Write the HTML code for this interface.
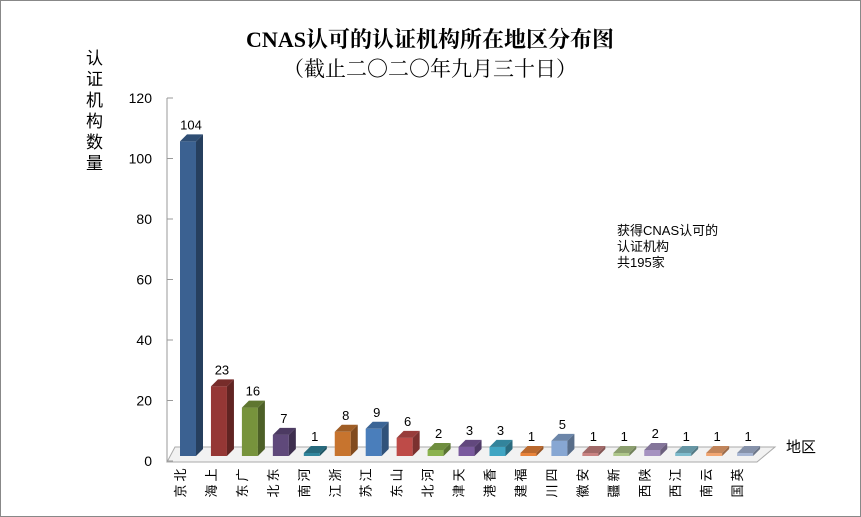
<!DOCTYPE html>
<html><head><meta charset="utf-8"><style>
body{margin:0;background:#fff;}
svg{display:block;font-family:"Liberation Sans","Noto Sans CJK SC",sans-serif;}
</style></head><body>
<svg id="chart" width="861" height="517">
<rect x="0.5" y="0.5" width="860" height="516" fill="#fff" stroke="#888"/>
<text x="430" y="47" text-anchor="middle" font-size="22" font-weight="bold" font-family="Liberation Serif,'Noto Serif CJK SC',serif">CNAS认可的认证机构所在地区分布图</text>
<text x="430" y="76" text-anchor="middle" font-size="21" font-family="Liberation Serif,'Noto Serif CJK SC',serif">（截止二〇二〇年九月三十日）</text>
<g font-size="17">
<text x="86" y="64">认</text><text x="86" y="85">证</text><text x="86" y="106">机</text><text x="86" y="127">构</text><text x="86" y="148">数</text><text x="86" y="169">量</text></g>
<text x="786" y="452" font-size="15">地区</text>
<g font-size="13">
<text x="617" y="235">获得CNAS认可的</text><text x="617" y="251">认证机构</text><text x="617" y="267">共195家</text></g>
<g id="axes"></g><g id="bars"></g>
</svg>
<script>
const categories=["北京","上海","广东","东北","河南","浙江","江苏","山东","河北","天津","香港","福建","四川","安徽","新疆","陕西","江西","云南","英国"];
const values=[104,23,16,7,1,8,9,6,2,3,3,1,5,1,1,2,1,1,1];
const yTicks=[0,20,40,60,80,100,120];
const colors=["#3b6191","#953735","#77933c","#5f497a","#31859c","#c7742e","#4a7ebb","#be4b48","#8bb24f","#7a5a9e","#40a5c3","#e8833a","#87a7d3","#c98382","#aec68a","#a592c0","#7fbccd","#f1a672","#a8b7d4"];
const NS="http://www.w3.org/2000/svg";
const base=456, scale=3.025, x0=188, step=30.95, bw=16, dp=7;
const yS=v=>base-v*scale, xS=i=>x0+i*step;
function mk(t,a,p){const e=document.createElementNS(NS,t);for(const k in a)e.setAttribute(k,a[k]);p.appendChild(e);return e;}
const ax=document.getElementById('axes'), bars=document.getElementById('bars');
// floor
const fl=mk('polygon',{points:"167,462 757,462 775,447 175,447",fill:"#f2f2f2",stroke:"#aaa"},ax);


const yl=mk('line',{x1:167,y1:98,x2:167,y2:462,stroke:"#999"},ax);


yTicks.forEach(t=>{const y=yS(t)+5;
 mk('line',{x1:167,y1:y,x2:173,y2:y,stroke:"#999"},ax);
 const tx=mk('text',{x:152,y:y+5,'text-anchor':'end','font-size':14},ax);tx.textContent=t;
 
 });
categories.forEach((c,i)=>{
 const cx=xS(i), v=values[i], top=yS(v), x=cx-bw/2, col=colors[i];
 const g=mk('g',{},bars);
 
 
 mk('rect',{x:x,y:top,width:bw,height:base-top,fill:col},g);
 mk('polygon',{points:`${x+bw},${top} ${x+bw+dp},${top-dp} ${x+bw+dp},${base-dp} ${x+bw},${base}`,fill:col,style:"filter:brightness(0.65)"},g);
 mk('polygon',{points:`${x},${top} ${x+dp},${top-dp} ${x+bw+dp},${top-dp} ${x+bw},${top}`,fill:col,style:"filter:brightness(0.8)"},g);
 const vl=mk('text',{x:cx+3,y:top-12,'text-anchor':'middle','font-size':13},g);vl.textContent=v;
 
 
 const lg=mk('g',{'font-size':13},ax);
 
 
 [...c].forEach((ch,k)=>{const t=mk('text',{x:cx-8,y:480+k*16,'text-anchor':'middle',transform:`rotate(-90 ${cx-8} ${475+k*16})`},lg);t.textContent=ch;});
});
</script>
</body></html>
